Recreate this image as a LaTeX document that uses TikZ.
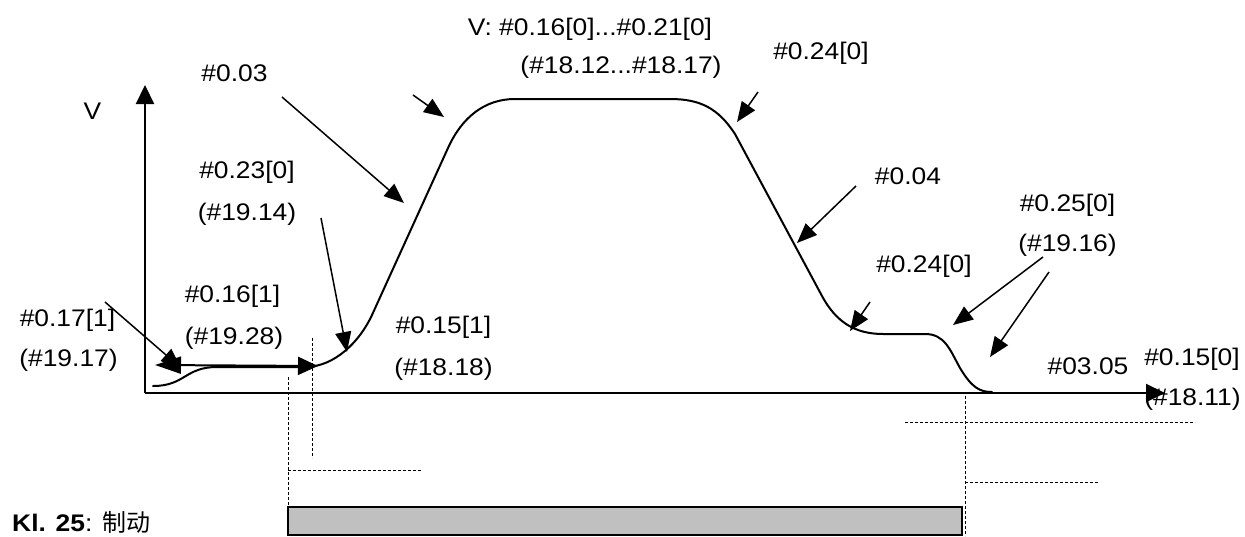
\documentclass[tikz,border=0pt]{standalone}
\usepackage{fontspec}
\setmainfont{Liberation Sans}[FakeStretch=1.1]
\newfontfamily\cjk{Noto Sans CJK SC}
\usetikzlibrary{arrows.meta}
\definecolor{barfill}{RGB}{192,192,192}
\begin{document}
\begin{tikzpicture}[x=1pt,y=-1pt,
  lbl/.style={inner sep=0pt, font=\fontsize{24}{28}\selectfont},
  curve/.style={line width=2pt, line join=round, line cap=round},
  axis/.style={line width=2.2pt, -{Triangle[length=19pt,width=18pt]}},
  pointer/.style={line width=1.5pt, -{Triangle[length=20pt,width=16pt]}},
  guide/.style={line width=0.8pt, dash pattern=on 3pt off 2pt},
]
\useasboundingbox (0,0) rectangle (1245,536);

% labels
\node[lbl] (lV) at (92.5,111) {V};
\node[lbl] (l003) at (234.5,73.5) {\#0.03};
\node[lbl] (lVtop) at (590,29) {V: \#0.16[0]...\#0.21[0]};
\node[lbl] (lVtop2) at (621,67.5) {(\#18.12...\#18.17)};
\node[lbl] (l024a) at (821,53) {\#0.24[0]};
\node[lbl] (l023) at (247,172.5) {\#0.23[0]};
\node[lbl] (l023b) at (247,214.5) {(\#19.14)};
\node[lbl] (l016) at (232.5,296) {\#0.16[1]};
\node[lbl] (l016b) at (234,338.5) {(\#19.28)};
\node[lbl] (l017) at (67.5,320) {\#0.17[1]};
\node[lbl] (l017b) at (68.5,360) {(\#19.17)};
\node[lbl] (l015) at (443.5,327.5) {\#0.15[1]};
\node[lbl] (l015b) at (443.5,369) {(\#18.18)};
\node[lbl] (l004) at (908,176.5) {\#0.04};
\node[lbl] (l025) at (1067.5,205) {\#0.25[0]};
\node[lbl] (l025b) at (1067.5,245) {(\#19.16)};
\node[lbl] (l024b) at (924,266) {\#0.24[0]};
\node[lbl] (l0305) at (1088,366) {\#03.05};
\node[lbl] (l0150) at (1192,359.5) {\#0.15[0]};
\node[lbl] (l0150b) at (1192.5,399.5) {(\#18.11)};
\node[lbl, anchor=west] (lkl) at (12,522) {\textbf{Kl. 25}: {\cjk 制动}};

% axes
\coordinate (O) at (145,393);
\coordinate (yend) at (145,85);
\coordinate (xend) at (1165,393);
\draw[axis] (O) -- (yend);
\draw[axis] (O) -- (xend);

% speed profile
\draw[curve] (153,386) .. controls (185,386) and (185,367) .. (217,367)
  -- (305,367) .. controls (335,367) and (360,341) .. (372,315)
  -- (448,148) .. controls (462,117) and (485,99) .. (515,99)
  -- (670,99) .. controls (700,99) and (718,108) .. (735,134)
  -- (822,296) .. controls (836,322) and (855,334) .. (883,334)
  -- (925,334) .. controls (945,334) and (950,350) .. (960,368)
  .. controls (972,388) and (980,392) .. (992,392);

% pointer arrows
\coordinate (t017) at (105,302);  \coordinate (h017) at (181,368);
\coordinate (da) at (155,365);    \coordinate (db) at (318,366);
\coordinate (t023) at (321,218);  \coordinate (h023) at (347,352);
\coordinate (t003) at (282,97);   \coordinate (h003) at (404,203);
\coordinate (tsm) at (413,95);    \coordinate (hsm) at (444,117);
\coordinate (t024a) at (758,92);  \coordinate (h024a) at (737,122);
\coordinate (t004) at (856,186);  \coordinate (h004) at (797,243);
\coordinate (t024b) at (870,302); \coordinate (h024b) at (850,331);
\coordinate (t025a) at (1043,257);\coordinate (h025a) at (953,325);
\coordinate (t025b) at (1049,272);\coordinate (h025b) at (990,357);

\draw[pointer] (t017) -- (h017);
\draw[line width=2pt, {Triangle[length=26pt,width=17pt]}-{Triangle[length=20pt,width=18pt]}] (da) -- (db);
\draw[pointer] (t023) -- (h023);
\draw[pointer] (t003) -- (h003);
\draw[pointer] (tsm) -- (hsm);
\draw[pointer] (t024a) -- (h024a);
\draw[pointer] (t004) -- (h004);
\draw[pointer] (t024b) -- (h024b);
\draw[pointer] (t025a) -- (h025a);
\draw[pointer] (t025b) -- (h025b);

% guide lines
\draw[guide] (288,377) -- (288,507);
\draw[guide] (312,338) -- (312,458);
\draw[guide] (288,470) -- (421,470);
\draw[guide] (965,396) -- (965,536);
\draw[guide] (905,422) -- (1195,422);
\draw[guide] (965,482) -- (1098,482);

% brake bar
\draw[line width=1.5pt, fill=barfill] (288,507) rectangle (962,535);
\end{tikzpicture}
\end{document}
